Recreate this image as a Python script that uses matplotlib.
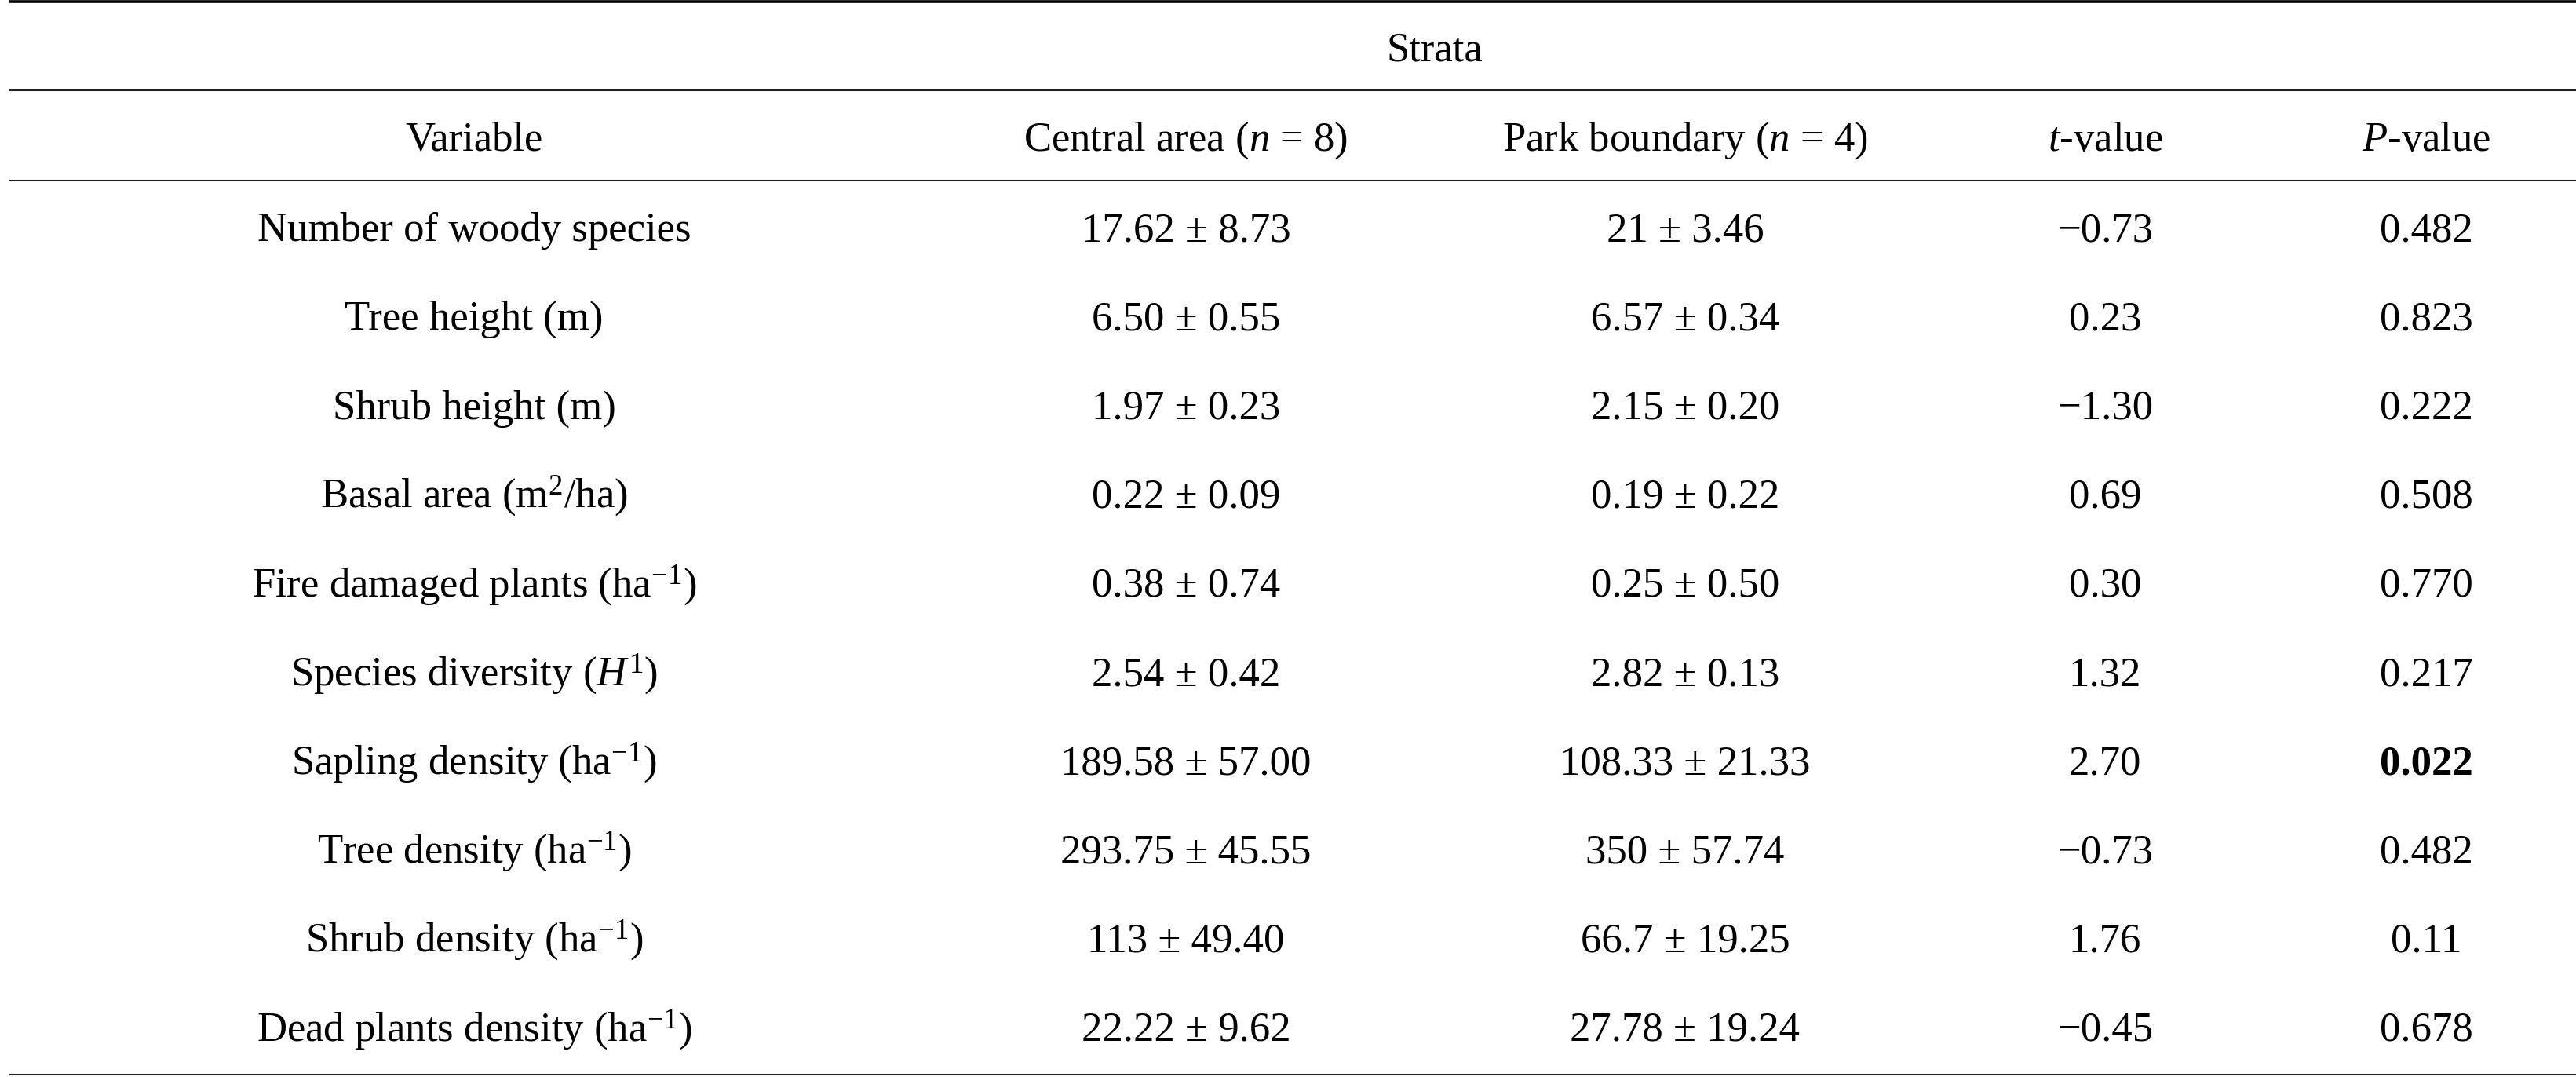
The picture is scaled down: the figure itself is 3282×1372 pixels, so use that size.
import matplotlib
matplotlib.use("Agg")
import matplotlib.pyplot as plt

plt.rcParams['font.family'] = ['Liberation Serif', 'DejaVu Serif']
plt.rcParams['mathtext.fontset'] = 'custom'
plt.rcParams['mathtext.rm'] = 'Liberation Serif'
plt.rcParams['mathtext.it'] = 'Liberation Serif:italic'
plt.rcParams['mathtext.bf'] = 'Liberation Serif:bold'

# ---- table content ----
group_header = "Strata"
col_headers = ["Variable", "Central area ($n$ = 8)", "Park boundary ($n$ = 4)",
               "$t$-value", "$P$-value"]
variables = ["Number of woody species", "Tree height (m)", "Shrub height (m)",
             r"Basal area ($\mathrm{m}^{2}$/ha)",
             r"Fire damaged plants ($\mathrm{ha}^{-1}$)",
             r"Species diversity ($H^{1}$)",
             r"Sapling density ($\mathrm{ha}^{-1}$)",
             r"Tree density ($\mathrm{ha}^{-1}$)",
             r"Shrub density ($\mathrm{ha}^{-1}$)",
             r"Dead plants density ($\mathrm{ha}^{-1}$)"]
central_mean = ["17.62", "6.50", "1.97", "0.22", "0.38", "2.54", "189.58", "293.75", "113", "22.22"]
central_sd = ["8.73", "0.55", "0.23", "0.09", "0.74", "0.42", "57.00", "45.55", "49.40", "9.62"]
park_mean = ["21", "6.57", "2.15", "0.19", "0.25", "2.82", "108.33", "350", "66.7", "27.78"]
park_sd = ["3.46", "0.34", "0.20", "0.22", "0.50", "0.13", "21.33", "57.74", "19.25", "19.24"]
t_values = [-0.73, 0.23, -1.30, 0.69, 0.30, 1.32, 2.70, -0.73, 1.76, -0.45]
p_values = ["0.482", "0.823", "0.222", "0.508", "0.770", "0.217", "0.022", "0.482", "0.11", "0.678"]
significant = [False, False, False, False, False, False, True, False, False, False]

W, H = 3282, 1372
fig = plt.figure(figsize=(W / 100, H / 100), dpi=100)
ax = fig.add_axes([0, 0, 1, 1])
ax.set_xlim(0, W)
ax.set_ylim(H, 0)
ax.axis('off')

fs = 38
col_x = [604, 1511, 2147, 2682, 3091]
strata_x = 1828
x0, x1 = 12, W

# rules
ax.plot([x0, x1], [2, 2], color='black', lw=2.6, solid_capstyle='butt')
ax.plot([x0, x1], [115, 115], color='#222222', lw=1.5, solid_capstyle='butt')
ax.plot([x0, x1], [230, 230], color='#222222', lw=1.5, solid_capstyle='butt')
ax.plot([x0, x1], [1369, 1369], color='#222222', lw=1.5, solid_capstyle='butt')

ax.text(strata_x, 77, group_header, ha='center', va='baseline', fontsize=fs)
for x, h in zip(col_x, col_headers):
    ax.text(x, 192, h, ha='center', va='baseline', fontsize=fs)

base0, step = 307, 113.2
for i in range(len(variables)):
    y = base0 + step * i
    tv = f"{t_values[i]:.2f}".replace('-', '\u2212')
    cells = [variables[i],
             f"{central_mean[i]} \u00b1 {central_sd[i]}",
             f"{park_mean[i]} \u00b1 {park_sd[i]}",
             tv, p_values[i]]
    for j, (x, c) in enumerate(zip(col_x, cells)):
        fw = 'bold' if (j == 4 and significant[i]) else 'normal'
        ax.text(x, y, c, ha='center', va='baseline', fontsize=fs, fontweight=fw)

fig.savefig("out.png", dpi=100, facecolor='white')
